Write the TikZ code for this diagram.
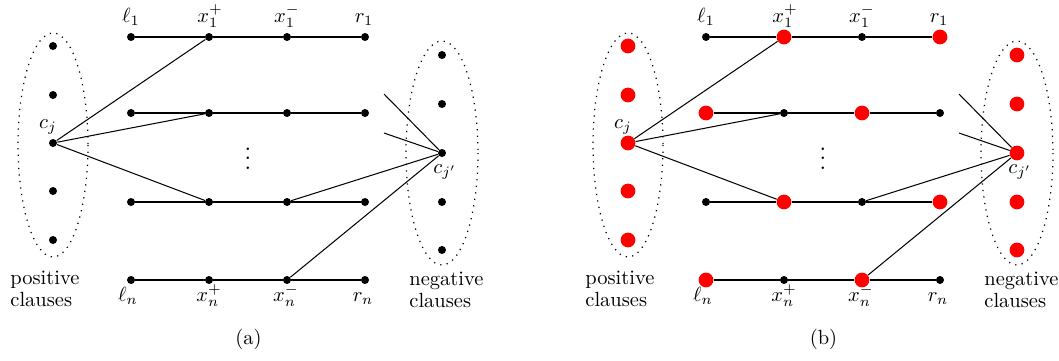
\documentclass[tikz,border=0pt]{standalone}
\tikzset{
 bdot/.style={circle,fill=black,inner sep=0pt,minimum size=3.9pt},
 rdot/.style={circle,fill=red,inner sep=0pt,minimum size=7.2pt},
 v-c1/.style=bdot, v-c2/.style=bdot, v-c3/.style=bdot, v-c4/.style=bdot, v-c5/.style=bdot,
 v-d1/.style=bdot, v-d2/.style=bdot, v-d3/.style=bdot, v-d4/.style=bdot, v-d5/.style=bdot,
 v-l1/.style=bdot, v-p1/.style=bdot, v-m1/.style=bdot, v-r1/.style=bdot,
 v-l2/.style=bdot, v-p2/.style=bdot, v-m2/.style=bdot, v-r2/.style=bdot,
 v-l3/.style=bdot, v-p3/.style=bdot, v-m3/.style=bdot, v-r3/.style=bdot,
 v-l4/.style=bdot, v-p4/.style=bdot, v-m4/.style=bdot, v-r4/.style=bdot,
 lbl/.style={anchor=base,inner sep=0pt,font=\fontsize{10}{12}\selectfont},
 captxt/.style={anchor=base west,inner sep=0pt,align=left,font=\fontsize{10}{10.3}\selectfont},
 edge/.style={line width=0.5pt},
 grp/.style={dash pattern=on 0.6pt off 2.6pt,line width=0.6pt},
}
\newcommand\mypanel{%
 \draw[grp] (53,145) ellipse [x radius=35,y radius=112];
 \draw[grp] (442,153) ellipse [x radius=36,y radius=112];
 \node[v-c1] (c1) at (53,46) {};
 \node[v-c2] (c2) at (53,95) {};
 \node[v-c3] (cj) at (53,143) {};
 \node[v-c4] (c4) at (53,191) {};
 \node[v-c5] (c5) at (53,240) {};
 \node[v-d1] (d1) at (442,55) {};
 \node[v-d2] (d2) at (442,104) {};
 \node[v-d3] (cjp) at (442,153) {};
 \node[v-d4] (d4) at (442,202) {};
 \node[v-d5] (d5) at (442,250) {};
 \node[v-l1] (l1) at (131,37) {};
 \node[v-p1] (p1) at (209,37) {};
 \node[v-m1] (m1) at (287,37) {};
 \node[v-r1] (r1) at (365,37) {};
 \node[v-l2] (l2) at (131,113) {};
 \node[v-p2] (p2) at (209,113) {};
 \node[v-m2] (m2) at (287,113) {};
 \node[v-r2] (r2) at (365,113) {};
 \node[v-l3] (l3) at (131,202) {};
 \node[v-p3] (p3) at (209,202) {};
 \node[v-m3] (m3) at (287,202) {};
 \node[v-r3] (r3) at (365,202) {};
 \node[v-l4] (ln) at (131,280) {};
 \node[v-p4] (pn) at (209,280) {};
 \node[v-m4] (mn) at (287,280) {};
 \node[v-r4] (rn) at (365,280) {};
 \draw[edge] (l1) -- (p1) -- (m1) -- (r1);
 \draw[edge] (l2) -- (p2) -- (m2) -- (r2);
 \draw[edge] (l3) -- (p3) -- (m3) -- (r3);
 \draw[edge] (ln) -- (pn) -- (mn) -- (rn);
 \draw[edge] (cj) -- (p1);
 \draw[edge] (cj) -- (p2);
 \draw[edge] (cj) -- (p3);
 \draw[edge] (cjp) -- (m3);
 \draw[edge] (cjp) -- (mn);
 \coordinate (s1) at (384,94);
 \coordinate (s2) at (384,133);
 \draw[edge] (s1) -- (cjp);
 \draw[edge] (s2) -- (cjp);
 \node[lbl] (tl1) at (131,22.5) {$\ell_1$};
 \node[lbl] (tp1) at (210,22.5) {$x_1^+$};
 \node[lbl] (tm1) at (287,22.5) {$x_1^-$};
 \node[lbl] (tr1) at (364,22.5) {$r_1$};
 \node[lbl] (tln) at (128,301) {$\ell_n$};
 \node[lbl] (tpn) at (209,301) {$x_n^+$};
 \node[lbl] (tmn) at (286,301) {$x_n^-$};
 \node[lbl] (trn) at (363,301) {$r_n$};
 \node[lbl] (tcj) at (48,128) {$c_j$};
 \node[lbl] (tcjp) at (445,173) {$c_{j'}$};
 \node[lbl,scale=1.15] (vd) at (248,169) {$\vdots$};
 \node[captxt] (pos) at (10,306) {positive\\clauses};
 \node[captxt] (neg) at (409,307) {negative\\clauses};
}
\begin{document}
\begin{tikzpicture}[x=0.488pt,y=-0.488pt]
 \useasboundingbox (0,0) rectangle (1059,360);
 \begin{scope}[name prefix=a-]
  \mypanel
 \end{scope}
 \begin{scope}[name prefix=b-, xshift=280.6pt,
   v-c1/.style=rdot, v-c2/.style=rdot, v-c3/.style=rdot, v-c4/.style=rdot, v-c5/.style=rdot,
   v-d1/.style=rdot, v-d2/.style=rdot, v-d3/.style=rdot, v-d4/.style=rdot, v-d5/.style=rdot,
   v-p1/.style=rdot, v-r1/.style=rdot, v-l2/.style=rdot, v-m2/.style=rdot,
   v-p3/.style=rdot, v-r3/.style=rdot, v-l4/.style=rdot, v-m4/.style=rdot]
  \mypanel
 \end{scope}
 \node[lbl] (capa) at (248.5,344) {(a)};
 \node[lbl] (capb) at (823.5,344) {(b)};
\end{tikzpicture}
\end{document}
